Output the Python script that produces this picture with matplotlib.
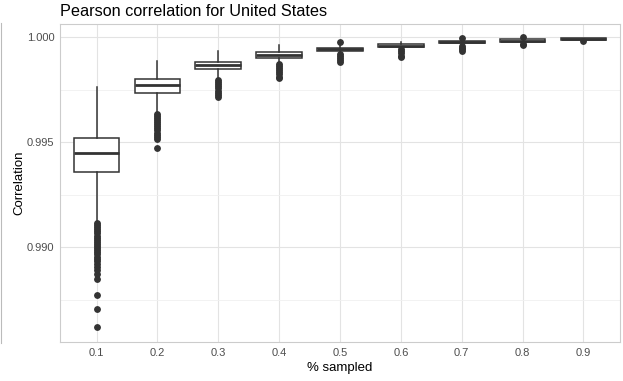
import matplotlib
matplotlib.use("Agg")
import matplotlib.pyplot as plt
from matplotlib.lines import Line2D

plt.rcParams['font.family'] = ['Liberation Sans', 'DejaVu Sans']

# categorias (% amostrado)
sampled = ['0.1', '0.2', '0.3', '0.4', '0.5', '0.6', '0.7', '0.8', '0.9']

# estatisticas dos boxplots
q1 = [0.99359, 0.99732, 0.99846, 0.99899, 0.99933, 0.99951, 0.99970, 0.99978, 0.99986]
med = [0.99449, 0.99771, 0.99866, 0.99914, 0.99942, 0.99958, 0.99976, 0.99983, 0.99990]
q3 = [0.99520, 0.99800, 0.99882, 0.99930, 0.99950, 0.99965, 0.99982, 0.99989, 0.99994]
whislo = [0.99120, 0.99641, 0.99799, 0.99878, 0.99925, 0.99946, 0.99964, 0.99972, 0.99983]
whishi = [0.99763, 0.99886, 0.99933, 0.99962, 0.99963, 0.99978, 0.99988, 0.99993, 0.99997]

# outliers
fliers = [
    [0.99115, 0.99105, 0.99095, 0.99085, 0.99075, 0.99065, 0.99055, 0.99045,
     0.99035, 0.99025, 0.99015, 0.99005, 0.98995, 0.98985, 0.98975, 0.98965,
     0.98955, 0.98945, 0.98935, 0.98920, 0.98905, 0.98890, 0.98870, 0.98846,
     0.98771, 0.98706, 0.98617],
    [0.99635, 0.99625, 0.99615, 0.99605, 0.99595, 0.99585, 0.99575, 0.99565,
     0.99555, 0.99545, 0.99535, 0.99525, 0.99515, 0.99470],
    [0.99795, 0.99785, 0.99775, 0.99765, 0.99755, 0.99745, 0.99735, 0.99725,
     0.99715],
    [0.99872, 0.99862, 0.99852, 0.99842, 0.99832, 0.99822, 0.99812, 0.99804],
    [0.99978, 0.99920, 0.99910, 0.99900, 0.99890, 0.99881],
    [0.99942, 0.99932, 0.99922, 0.99912, 0.99907],
    [0.99994, 0.99958, 0.99950, 0.99942, 0.99935],
    [0.99998, 0.99967, 0.99960],
    [0.99980],
]

stats = []
for i in range(len(sampled)):
    stats.append(dict(q1=q1[i], med=med[i], q3=q3[i], whislo=whislo[i],
                      whishi=whishi[i], fliers=fliers[i], label=sampled[i]))

fig = plt.figure(figsize=(6.23, 3.81), dpi=100)
ax = fig.add_axes([0.0963, 0.1024, 0.8989, 0.8346])

dark = '#333333'
positions = list(range(1, len(sampled) + 1))
ax.bxp(stats, positions=positions, widths=0.75, patch_artist=True,
       boxprops=dict(facecolor='white', edgecolor=dark, linewidth=1.1),
       medianprops=dict(color=dark, linewidth=2.0),
       whiskerprops=dict(color=dark, linewidth=1.1),
       capprops=dict(linewidth=0),
       flierprops=dict(marker='o', markersize=3.9, markerfacecolor=dark,
                       markeredgecolor=dark, linestyle='none'),
       zorder=3)

ax.set_xlim(0.4, len(sampled) + 0.6)
ax.set_ylim(0.98548, 1.00062)
ax.set_xticks(positions)
ax.set_xticklabels(sampled)
ax.set_yticks([0.990, 0.995, 1.000])
ax.set_yticklabels(['0.990', '0.995', '1.000'])
ax.set_yticks([0.9875, 0.9925, 0.9975], minor=True)

ax.grid(True, which='major', color='#e3e3e3', linewidth=0.8, zorder=0)
ax.grid(True, which='minor', axis='y', color='#f0f0f0', linewidth=0.6, zorder=0)
ax.set_axisbelow(True)
for s in ax.spines.values():
    s.set_color('#cccccc')
    s.set_linewidth(0.8)

ax.tick_params(axis='both', which='both', length=0, labelsize=8,
               labelcolor='#4d4d4d', pad=4)

ax.set_xlabel('% sampled', fontsize=9.5, color='black', labelpad=3)
ax.set_ylabel('Correlation', fontsize=9.5, color='black', labelpad=1)
ax.set_title('Pearson correlation for United States', loc='left',
             fontsize=11.7, color='black', pad=6)

# linha fina na borda esquerda
fig.add_artist(Line2D([0.0015, 0.0015], [1 - 23 / 381, 1 - 343 / 381],
                      color='#bbbbbb', linewidth=0.8))

fig.savefig('out.png', dpi=100)
